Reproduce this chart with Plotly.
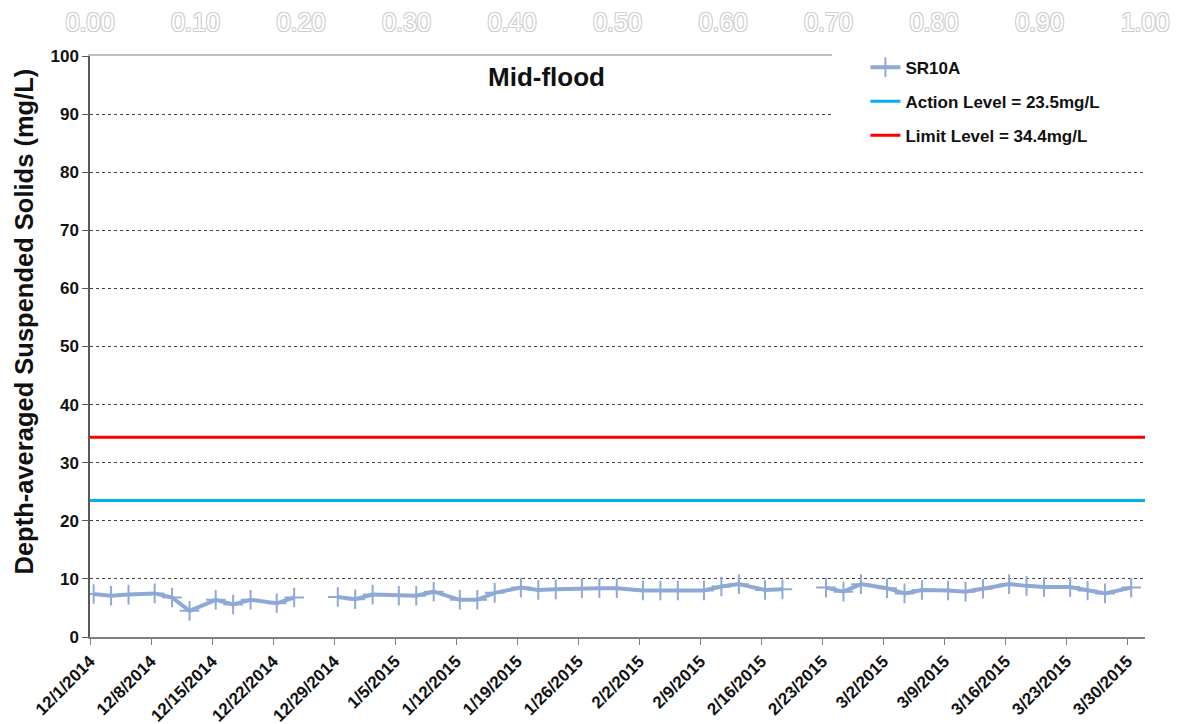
import pandas as pd
import plotly.graph_objects as go

# Sampling dates (mid-flood) and depth-averaged suspended solids at SR10A, mg/L.
# None = no sample taken on that scheduled day.
sample_dates = [
    "2014-12-01", "2014-12-03", "2014-12-05", "2014-12-08", "2014-12-10", "2014-12-12",
    "2014-12-15", "2014-12-17", "2014-12-19", "2014-12-22", "2014-12-24", "2014-12-26",
    "2014-12-29", "2014-12-31", "2015-01-02", "2015-01-05", "2015-01-07", "2015-01-09",
    "2015-01-12", "2015-01-14", "2015-01-16", "2015-01-19", "2015-01-21", "2015-01-23",
    "2015-01-26", "2015-01-28", "2015-01-30", "2015-02-02", "2015-02-04", "2015-02-06",
    "2015-02-09", "2015-02-11", "2015-02-13", "2015-02-16", "2015-02-18", "2015-02-20",
    "2015-02-23", "2015-02-25", "2015-02-27", "2015-03-02", "2015-03-04", "2015-03-06",
    "2015-03-09", "2015-03-11", "2015-03-13", "2015-03-16", "2015-03-18", "2015-03-20",
    "2015-03-23", "2015-03-25", "2015-03-27", "2015-03-30",
]
sr10a_values = [
    7.4, 7.1, 7.3, 7.5, 6.8, 4.5,
    6.4, 5.6, 6.4, 5.8, 6.8, None,
    6.9, 6.5, 7.3, 7.1, 7.1, 7.8,
    6.4, 6.4, 7.6, 8.5, 8.1, 8.2,
    8.4, 8.4, 8.4, 8.0, 8.0, 8.0,
    8.0, 8.7, 9.1, 8.1, 8.2, None,
    8.5, 7.8, 9.1, 8.4, 7.5, 8.1,
    8.0, 7.8, 8.3, 9.1, 8.8, 8.6,
    8.6, 8.0, 7.5, 8.5,
]
sample_time = "10:00"

action_level = 23.5
limit_level = 34.4

axis_start = "2014-12-01"
axis_end = "2015-04-01"
y_ticks = list(range(0, 101, 10))
top_ticks = [i / 10 for i in range(11)]

FONT = "Liberation Sans, Arial, sans-serif"
SERIES_COLOR = "#8FA9D6"
ACTION_COLOR = "#00B0F0"
LIMIT_COLOR = "#FF0000"

x_samples = pd.to_datetime([f"{d} {sample_time}" for d in sample_dates])

fig = go.Figure()

fig.add_trace(go.Scatter(
    x=x_samples, y=sr10a_values, name="SR10A",
    mode="lines+markers", connectgaps=False,
    line=dict(color=SERIES_COLOR, width=4),
    marker=dict(symbol="cross-thin", size=14,
                line=dict(color=SERIES_COLOR, width=2)),
    legendgroup="a",
))
fig.add_trace(go.Scatter(
    x=[axis_start, axis_end], y=[action_level, action_level],
    name=f"Action Level = {action_level}mg/L", mode="lines",
    line=dict(color=ACTION_COLOR, width=3), legendgroup="b",
))
fig.add_trace(go.Scatter(
    x=[axis_start, axis_end], y=[limit_level, limit_level],
    name=f"Limit Level = {limit_level}mg/L", mode="lines",
    line=dict(color=LIMIT_COLOR, width=3), legendgroup="c",
))
# empty series on the secondary (top) axis so that axis gets drawn
fig.add_trace(go.Scatter(
    x=[top_ticks[0], top_ticks[-1]], y=[None, None], xaxis="x2",
    mode="lines", showlegend=False, hoverinfo="skip",
))

outline = "#cfcfcf"
fig.update_layout(
    width=1180, height=724,
    margin=dict(l=90, r=35, t=56, b=87),
    paper_bgcolor="white", plot_bgcolor="white",
    font=dict(family=FONT, color="black"),
    showlegend=True,
    legend=dict(
        x=0.735, y=1.011, xanchor="left", yanchor="top",
        bgcolor="rgba(0,0,0,0)", borderwidth=0,
        font=dict(family=FONT, size=17, weight="bold", color="#111"),
        tracegroupgap=9,
    ),
    xaxis=dict(
        type="date", range=[axis_start, axis_end],
        tick0=axis_start, dtick=7 * 86400000, tickformat="%-m/%-d/%Y",
        tickangle=-45, showgrid=False, automargin=False,
        showline=True, linecolor="#7f7f7f", linewidth=1.5,
        ticks="outside", ticklen=6, tickcolor="#7f7f7f",
        tickfont=dict(family=FONT, size=17, weight="bold", color="#111"),
    ),
    xaxis2=dict(
        overlaying="x", side="top", anchor="y", range=[0, 1],
        tickvals=top_ticks, tickformat=".2f", showgrid=False, zeroline=False,
        showline=True, linecolor="#c0c0c0", linewidth=2, automargin=False,
        ticks="", ticklabelstandoff=13,
        tickfont=dict(family=FONT, size=25, color="white",
                      shadow=f"-1px -1px 0 {outline}, 1px -1px 0 {outline}, "
                             f"-1px 1px 0 {outline}, 1px 1px 0 {outline}"),
    ),
    yaxis=dict(
        range=[0, 100], tickvals=y_ticks, automargin=False,
        showgrid=True, gridcolor="#404040", gridwidth=1, griddash="dot",
        zeroline=False,
        showline=True, linecolor="#595959", linewidth=1.5,
        ticks="outside", ticklen=6, tickcolor="#595959",
        tickfont=dict(family=FONT, size=17, weight="bold", color="#111"),
    ),
    shapes=[dict(
        type="rect", xref="paper", yref="paper", layer="above",
        x0=0.7033, x1=1.02, y0=0.82, y1=1.03,
        fillcolor="white", line=dict(width=0),
    )],
    annotations=[
        dict(text="Mid-flood", xref="paper", yref="paper", x=0.433, y=0.964,
             showarrow=False, xanchor="center", yanchor="middle",
             font=dict(family=FONT, size=26, weight="bold", color="#111")),
        dict(text="Depth-averaged Suspended Solids (mg/L)", xref="paper", yref="paper",
             x=-0.0626, y=0.543, textangle=-90, showarrow=False,
             xanchor="center", yanchor="middle",
             font=dict(family=FONT, size=25.5, weight="bold", color="#111")),
    ],
)

fig.write_html("out.html")
